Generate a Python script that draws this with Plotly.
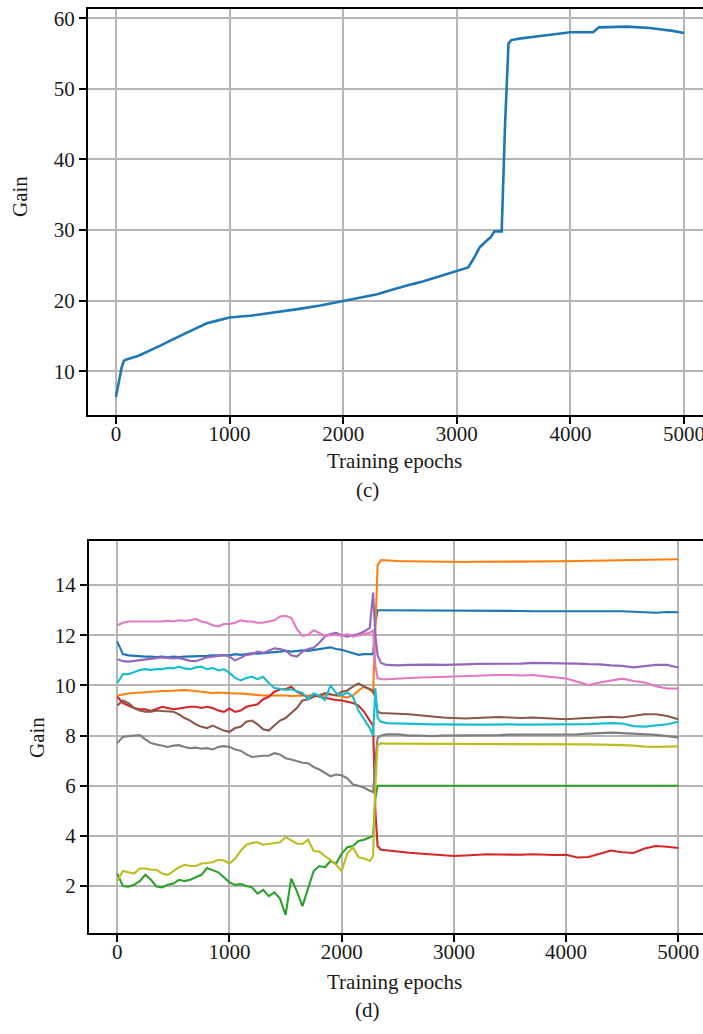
import plotly.graph_objects as go

# ---------------- data: panel (c) ----------------
C_EPOCHS = [0, 50, 70, 100, 200, 300, 400, 500, 600, 700, 800, 900, 1000, 1200, 1400,
            1600, 1800, 2000, 2200, 2300, 2400, 2500, 2600, 2700, 2800, 2900, 3000, 3100,
            3150, 3200, 3250, 3300, 3330, 3395, 3425, 3455, 3480, 3550, 3700, 3800, 3900,
            4000, 4200, 4225, 4250, 4500, 4700, 4900, 5000]
C_GAIN = [6.4, 10.5, 11.5, 11.7, 12.2, 12.9, 13.7, 14.5, 15.3, 16.0, 16.8, 17.2, 17.6, 17.9, 18.3,
          18.8, 19.3, 19.9, 20.5, 20.9, 21.4, 21.9, 22.3, 22.7, 23.2, 23.6, 24.1, 24.7,
          26.0, 27.5, 28.3, 29.0, 29.8, 29.8, 45.0, 56.4, 56.9, 57.1, 57.4, 57.6, 57.9,
          58.0, 58.0, 58.4, 58.7, 58.8, 58.6, 58.2, 57.9]

# ---------------- data: panel (d) ----------------
D_EPOCHS = (list(range(0, 2300, 50)) + [2280, 2300, 2320, 2350]
            + list(range(2400, 5001, 100)))

BLUE_PRE = [11.75, 11.25, 11.2, 11.18, 11.17, 11.15, 11.15, 11.13, 11.15, 11.12, 11.15, 11.13,
            11.15, 11.15, 11.17, 11.15, 11.18, 11.2, 11.2, 11.18, 11.2, 11.25, 11.22, 11.25,
            11.28, 11.27, 11.3, 11.3, 11.33, 11.35, 11.38, 11.35, 11.38, 11.4, 11.38, 11.42,
            11.45, 11.5, 11.52, 11.45, 11.42, 11.35, 11.3, 11.22, 11.25, 11.25]
BLUE_TR = [11.25, 12.5, 13.0, 13.0]
BLUE_POST = [13.0, 12.98, 12.97, 12.97, 12.98, 12.98, 13.0, 12.99, 12.98, 12.98, 12.97, 12.98,
             12.97, 12.96, 12.96, 12.97, 12.97, 12.96, 12.97, 12.98, 12.96, 12.96, 12.94,
             12.92, 12.9, 12.93, 12.92]

ORANGE_PRE = [9.6, 9.65, 9.68, 9.7, 9.72, 9.74, 9.75, 9.77, 9.78, 9.78, 9.8, 9.8, 9.82, 9.8,
              9.78, 9.75, 9.72, 9.7, 9.72, 9.7, 9.7, 9.68, 9.68, 9.65, 9.63, 9.62, 9.6, 9.6,
              9.6, 9.62, 9.6, 9.58, 9.58, 9.6, 9.6, 9.62, 9.6, 9.62, 9.65, 9.6, 9.55, 9.52,
              9.6, 9.8, 9.95, 9.85]
ORANGE_TR = [9.7, 12.0, 14.8, 15.0]
ORANGE_POST = [14.98, 14.96, 14.95, 14.94, 14.93, 14.93, 14.92, 14.92, 14.93, 14.93, 14.93,
               14.94, 14.94, 14.94, 14.95, 14.95, 14.95, 14.96, 14.97, 14.97, 14.98, 14.99,
               14.99, 15.0, 15.01, 15.01, 15.03]

GREEN_PRE = [2.5, 2.0, 1.98, 2.05, 2.2, 2.45, 2.25, 1.98, 1.95, 2.05, 2.1, 2.25, 2.2, 2.25,
             2.35, 2.45, 2.72, 2.65, 2.55, 2.35, 2.15, 2.05, 2.08, 2.0, 1.95, 1.7, 1.85, 1.6,
             1.75, 1.5, 0.85, 2.3, 1.8, 1.2, 1.9, 2.6, 2.8, 2.75, 3.0, 2.9, 3.3, 3.55, 3.6,
             3.8, 3.85, 3.95]
GREEN_TR = [4.0, 5.5, 6.0, 6.0]
GREEN_POST = [6.0] * 27

RED_PRE = [9.55, 9.3, 9.2, 9.1, 9.05, 9.05, 8.98, 9.05, 9.15, 9.1, 9.05, 9.08, 9.12, 9.15,
           9.15, 9.1, 9.15, 9.1, 9.0, 8.95, 9.08, 8.95, 9.0, 9.15, 9.2, 9.25, 9.45, 9.55, 9.75,
           9.85, 9.85, 9.95, 9.75, 9.65, 9.5, 9.65, 9.55, 9.5, 9.45, 9.42, 9.4, 9.35, 9.3,
           9.2, 8.95, 8.6]
RED_TR = [8.4, 5.0, 3.6, 3.45]
RED_POST = [3.42, 3.38, 3.33, 3.3, 3.28, 3.24, 3.2, 3.22, 3.25, 3.27, 3.26, 3.24, 3.25, 3.27,
            3.25, 3.24, 3.25, 3.14, 3.16, 3.3, 3.42, 3.35, 3.32, 3.5, 3.6, 3.57, 3.52]

PURPLE_PRE = [11.05, 10.97, 10.95, 10.98, 11.02, 11.05, 11.08, 11.12, 11.12, 11.1, 11.08,
              11.1, 11.05, 10.98, 10.97, 11.05, 11.12, 11.15, 11.18, 11.22, 11.15, 11.0, 11.1,
              11.22, 11.25, 11.35, 11.3, 11.4, 11.48, 11.45, 11.4, 11.2, 11.15, 11.35, 11.45,
              11.5, 11.7, 11.95, 12.05, 12.1, 12.0, 11.95, 12.0, 12.05, 12.15, 12.3]
PURPLE_TR = [13.7, 12.0, 11.2, 10.9]
PURPLE_POST = [10.82, 10.8, 10.82, 10.83, 10.83, 10.82, 10.82, 10.84, 10.86, 10.86, 10.88,
               10.88, 10.87, 10.9, 10.9, 10.89, 10.88, 10.87, 10.85, 10.84, 10.8, 10.78,
               10.72, 10.76, 10.82, 10.82, 10.72]

BROWN_PRE = [9.2, 9.4, 9.3, 9.1, 9.0, 8.95, 8.95, 9.0, 8.98, 8.95, 8.95, 8.85, 8.7, 8.6,
             8.45, 8.35, 8.3, 8.4, 8.3, 8.2, 8.15, 8.3, 8.35, 8.55, 8.6, 8.45, 8.25, 8.2, 8.4,
             8.6, 8.7, 8.9, 9.1, 9.4, 9.45, 9.55, 9.6, 9.7, 9.65, 9.6, 9.75, 9.8, 9.95,
             10.08, 9.95, 9.85]
BROWN_TR = [9.8, 9.5, 8.95, 8.9]
BROWN_POST = [8.9, 8.87, 8.85, 8.8, 8.75, 8.72, 8.7, 8.68, 8.7, 8.72, 8.74, 8.72, 8.7, 8.72,
              8.7, 8.66, 8.65, 8.68, 8.7, 8.72, 8.75, 8.72, 8.8, 8.85, 8.85, 8.78, 8.65]

PINK_PRE = [12.4, 12.5, 12.55, 12.55, 12.55, 12.52, 12.55, 12.52, 12.55, 12.58, 12.55, 12.6,
            12.58, 12.6, 12.65, 12.55, 12.5, 12.4, 12.35, 12.45, 12.45, 12.5, 12.6, 12.55,
            12.55, 12.5, 12.5, 12.55, 12.6, 12.75, 12.78, 12.7, 12.25, 11.98, 12.02, 12.2,
            12.1, 11.98, 12.0, 12.02, 11.98, 12.05, 11.95, 12.0, 12.08, 12.1]
PINK_TR = [12.2, 10.8, 10.3, 10.25]
PINK_POST = [10.25, 10.28, 10.3, 10.32, 10.33, 10.35, 10.35, 10.38, 10.4, 10.4, 10.42, 10.42,
             10.4, 10.42, 10.38, 10.32, 10.28, 10.15, 10.02, 10.12, 10.2, 10.27, 10.18,
             10.12, 9.97, 9.88, 9.88]

GRAY_PRE = [7.7, 7.95, 7.98, 8.0, 8.02, 7.85, 7.7, 7.65, 7.6, 7.55, 7.6, 7.62, 7.55, 7.5,
            7.52, 7.48, 7.5, 7.45, 7.55, 7.58, 7.55, 7.45, 7.4, 7.25, 7.15, 7.18, 7.2, 7.2,
            7.3, 7.25, 7.1, 7.05, 6.98, 6.92, 6.9, 6.75, 6.65, 6.5, 6.38, 6.45, 6.42, 6.3,
            6.05, 6.0, 5.92, 5.8]
GRAY_TR = [5.75, 7.0, 7.9, 8.0]
GRAY_POST = [8.05, 8.05, 8.0, 8.0, 7.98, 8.0, 8.0, 8.02, 8.02, 8.03, 8.02, 8.04, 8.04, 8.05,
             8.04, 8.05, 8.05, 8.05, 8.08, 8.1, 8.12, 8.1, 8.08, 8.06, 8.03, 7.98, 7.93]

OLIVE_PRE = [2.2, 2.6, 2.55, 2.5, 2.7, 2.7, 2.65, 2.65, 2.5, 2.45, 2.6, 2.75, 2.85, 2.8, 2.8,
             2.9, 2.92, 2.95, 3.05, 3.02, 2.9, 3.1, 3.4, 3.65, 3.72, 3.75, 3.65, 3.68, 3.7,
             3.75, 3.95, 3.82, 3.7, 3.68, 3.85, 3.4, 3.38, 3.2, 3.05, 2.85, 2.6, 3.3, 3.55,
             3.15, 3.1, 3.0]
OLIVE_TR = [3.2, 6.0, 7.6, 7.7]
OLIVE_POST = [7.68, 7.68, 7.68, 7.68, 7.67, 7.67, 7.67, 7.67, 7.67, 7.66, 7.66, 7.66, 7.66,
              7.66, 7.65, 7.65, 7.65, 7.65, 7.65, 7.64, 7.64, 7.62, 7.6, 7.56, 7.55, 7.55, 7.57]

CYAN_PRE = [10.1, 10.45, 10.45, 10.55, 10.62, 10.65, 10.62, 10.65, 10.65, 10.7, 10.68, 10.75,
            10.68, 10.65, 10.72, 10.75, 10.65, 10.7, 10.6, 10.65, 10.5, 10.3, 10.2, 10.3,
            10.35, 10.25, 10.35, 10.1, 9.9, 9.87, 9.82, 9.85, 9.78, 9.7, 9.45, 9.68, 9.6,
            9.42, 10.0, 9.7, 9.6, 9.72, 9.55, 9.0, 8.65, 8.3]
CYAN_TR = [8.0, 9.9, 8.7, 8.55]
CYAN_POST = [8.5, 8.48, 8.47, 8.46, 8.45, 8.45, 8.44, 8.44, 8.44, 8.44, 8.45, 8.45, 8.44,
             8.44, 8.45, 8.45, 8.45, 8.45, 8.46, 8.48, 8.5, 8.48, 8.38, 8.36, 8.4, 8.45, 8.55]

SERIES = [
    ("#1f77b4", BLUE_PRE, BLUE_TR, BLUE_POST),
    ("#ff7f0e", ORANGE_PRE, ORANGE_TR, ORANGE_POST),
    ("#2ca02c", GREEN_PRE, GREEN_TR, GREEN_POST),
    ("#d62728", RED_PRE, RED_TR, RED_POST),
    ("#9467bd", PURPLE_PRE, PURPLE_TR, PURPLE_POST),
    ("#8c564b", BROWN_PRE, BROWN_TR, BROWN_POST),
    ("#e377c2", PINK_PRE, PINK_TR, PINK_POST),
    ("#7f7f7f", GRAY_PRE, GRAY_TR, GRAY_POST),
    ("#bcbd22", OLIVE_PRE, OLIVE_TR, OLIVE_POST),
    ("#17becf", CYAN_PRE, CYAN_TR, CYAN_POST),
]

W, H = 703, 1034
FONT = "Liberation Serif, Times New Roman, serif"
TXT = "#1a1a1a"
GRID = "#b5b5b5"
FS = 21

fig = go.Figure()
fig.add_trace(go.Scatter(x=C_EPOCHS, y=C_GAIN, mode="lines",
                         line=dict(color="#1f77b4", width=2.6),
                         xaxis="x", yaxis="y", showlegend=False, hoverinfo="skip"))
for color, pre, tr, post in SERIES:
    fig.add_trace(go.Scatter(x=D_EPOCHS, y=pre + tr + post, mode="lines",
                             line=dict(color=color, width=2.1),
                             xaxis="x2", yaxis="y2", showlegend=False, hoverinfo="skip"))

common_axis = dict(showline=True, linecolor="black", linewidth=2.2,
                   ticks="outside", ticklen=7, tickwidth=1.5, tickcolor="black",
                   showgrid=True, gridcolor=GRID, gridwidth=1.5, zeroline=False,
                   tickfont=dict(family=FONT, size=FS, color=TXT), automargin=False,
                   ticklabeloverflow="allow")

fig.update_layout(
    width=W, height=H, margin=dict(l=0, r=0, t=0, b=0),
    paper_bgcolor="white", plot_bgcolor="white",
    xaxis=dict(domain=[88 / W, 1.0], range=[-246, 5167], anchor="y",
               tickvals=[0, 1000, 2000, 3000, 4000, 5000], tickformat="d",
               mirror=True, ticklabelstandoff=-8, **common_axis),
    yaxis=dict(domain=[1 - 415 / H, 1 - 9 / H], range=[3.8, 61.3], anchor="x",
               tickvals=[10, 20, 30, 40, 50, 60], mirror=False, **common_axis),
    xaxis2=dict(domain=[89 / W, 1.0], range=[-252, 5220], anchor="y2",
                tickvals=[0, 1000, 2000, 3000, 4000, 5000], tickformat="d",
                mirror=True, ticklabelstandoff=-8, **common_axis),
    yaxis2=dict(domain=[1 - 933 / H, 1 - 541 / H], range=[0.13, 15.76], anchor="x2",
                tickvals=[2, 4, 6, 8, 10, 12, 14], mirror=False, **common_axis),
)

def label(text, x, y, angle=0):
    fig.add_annotation(text=text, x=x / W, y=1 - y / H, xref="paper", yref="paper",
                       showarrow=False, textangle=angle, xanchor="center", yanchor="middle",
                       font=dict(family=FONT, size=FS, color=TXT))

label("Gain", 20, 197, -90)
label("Training epochs", 394, 461)
label("(c)", 368, 490)
label("Gain", 37, 738, -90)
label("Training epochs", 394, 982)
label("(d)", 368, 1010)

fig.write_html("out.html")
